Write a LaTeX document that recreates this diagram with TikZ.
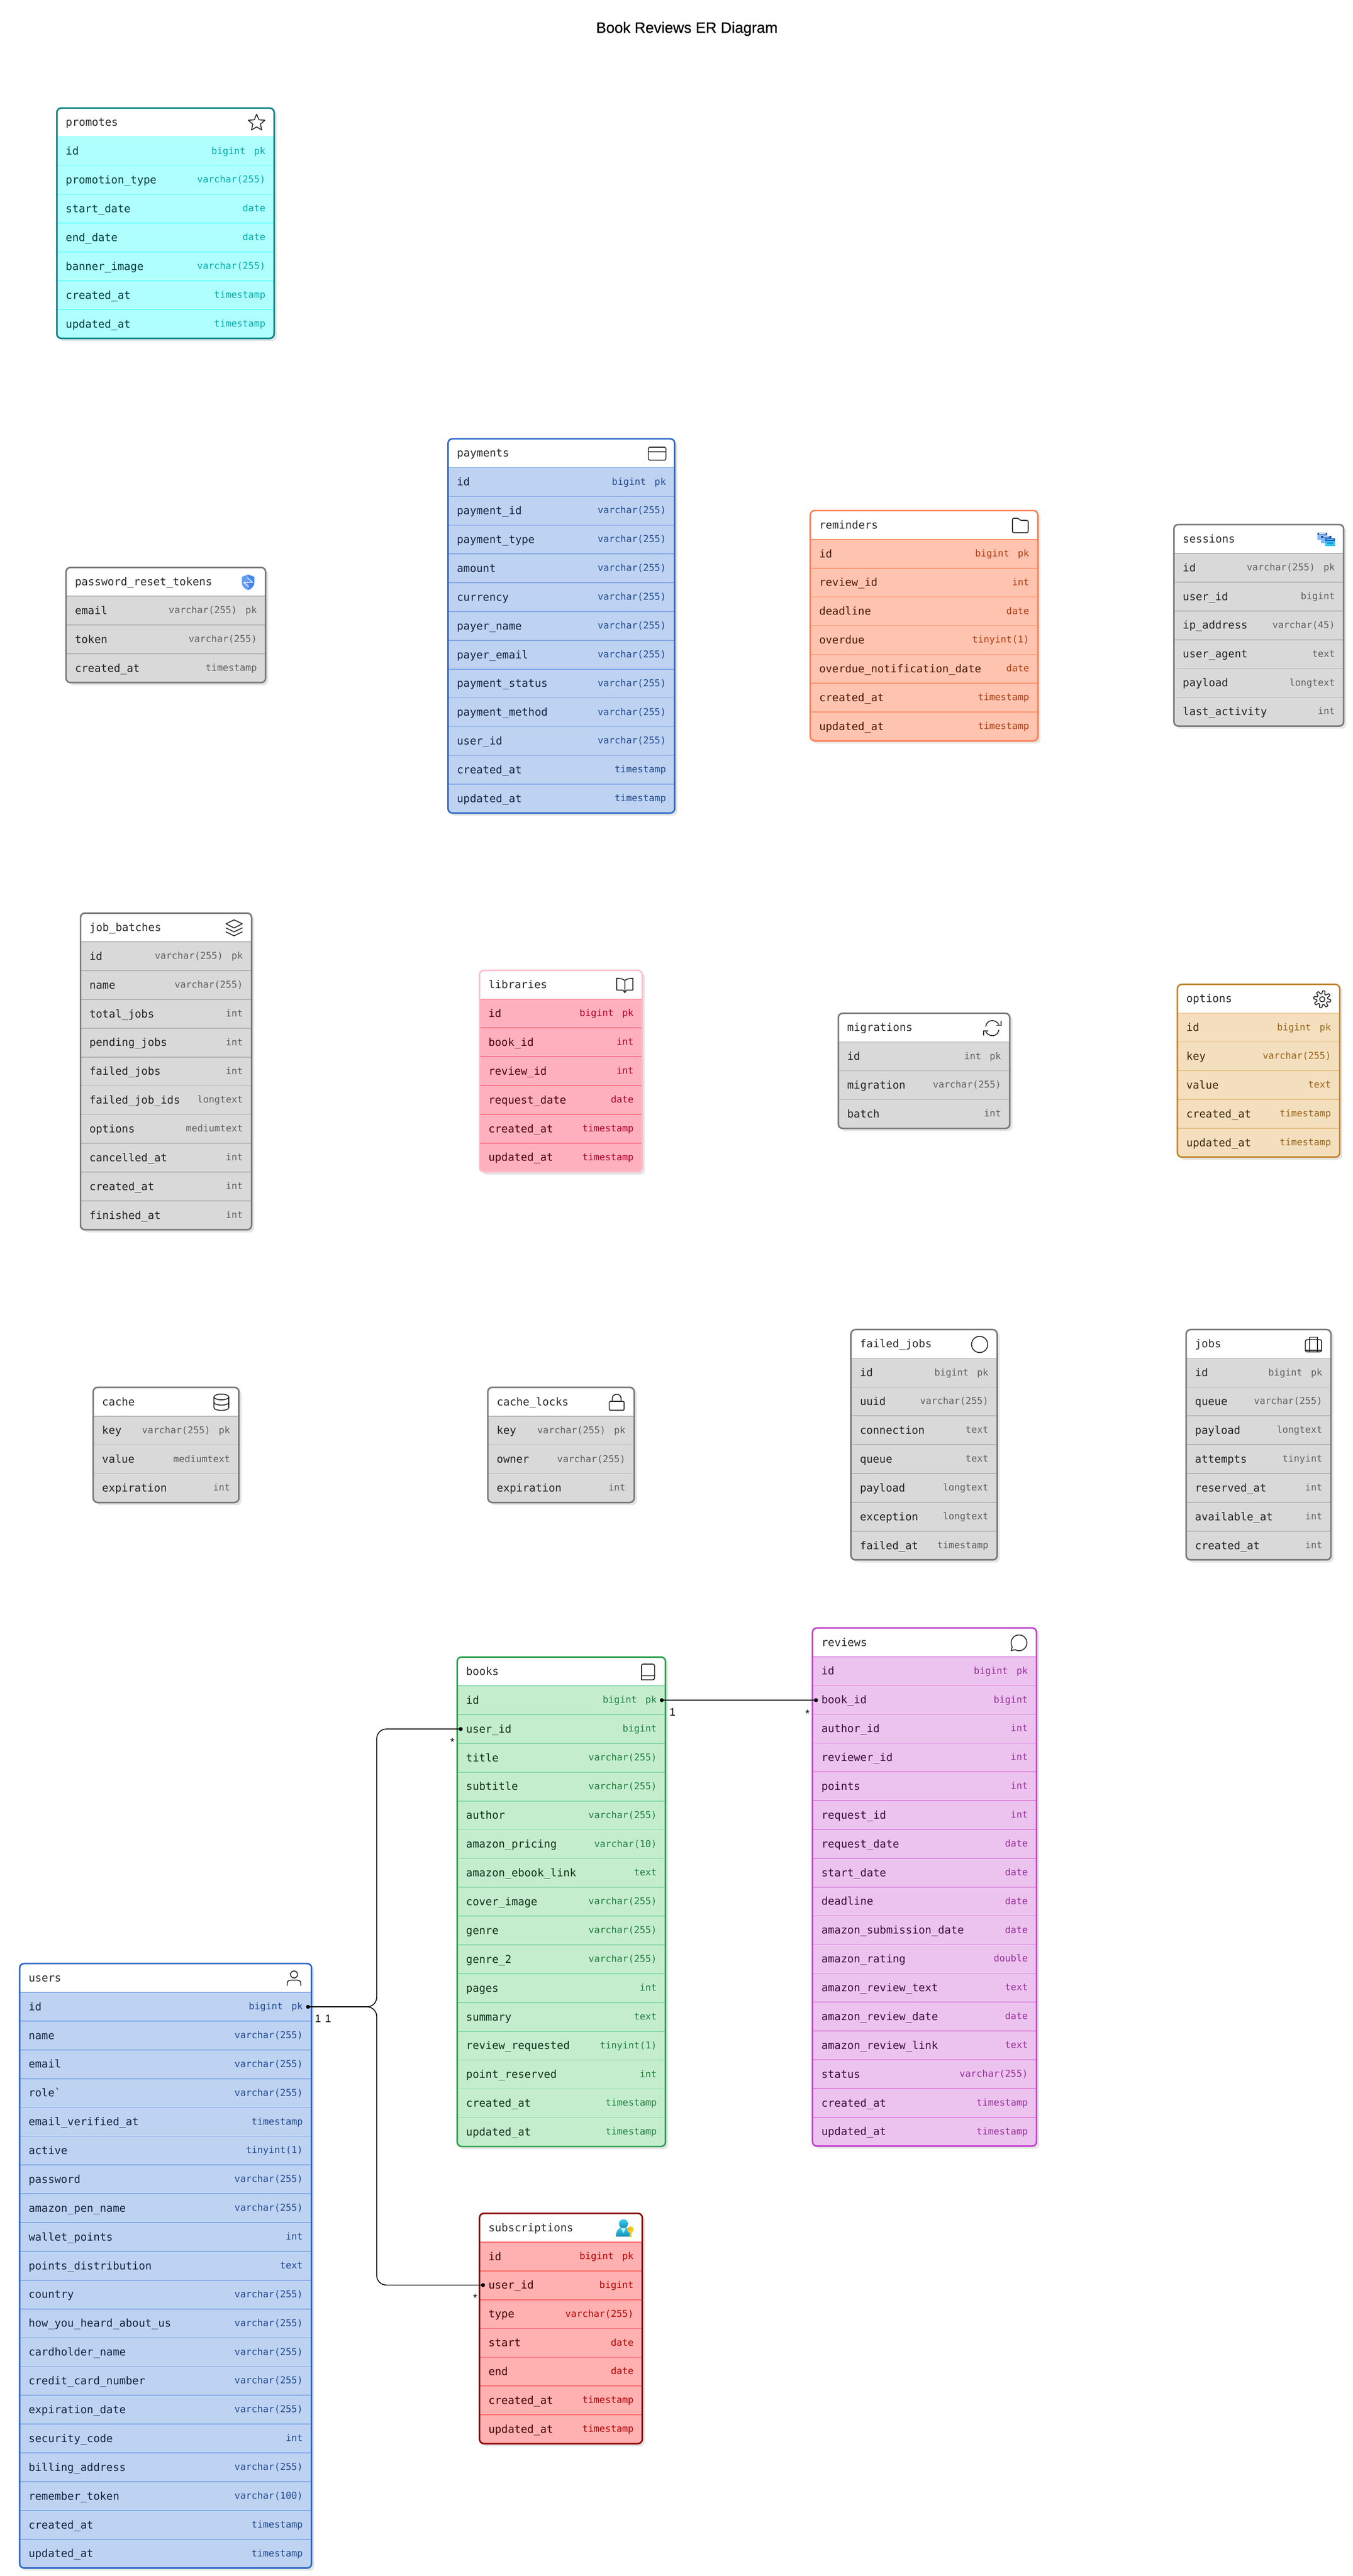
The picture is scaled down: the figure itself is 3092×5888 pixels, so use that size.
\documentclass[tikz,border=0pt]{standalone}
\usepackage{fontspec}
\newfontfamily\ermono{DejaVu Sans Mono}
\newfontfamily\ersans{Liberation Sans}
\newfontfamily\ersanshead[FakeBold=0.6]{Liberation Sans}
\catcode`\_=12
% palettes: border, fill, separator, name text, type text
\definecolor{tealbd}{HTML}{008080}\definecolor{tealfl}{HTML}{B0FFFF}\definecolor{tealsp}{HTML}{66FFFF}\definecolor{tealnm}{HTML}{003D3D}\definecolor{tealty}{HTML}{00ADAD}
\definecolor{bluebd}{HTML}{2B68C8}\definecolor{bluefl}{HTML}{BED2F1}\definecolor{bluesp}{HTML}{7DA5E8}\definecolor{bluenm}{HTML}{14243F}\definecolor{bluety}{HTML}{1F4A90}
\definecolor{coralbd}{HTML}{FF7F50}\definecolor{coralfl}{HTML}{FFC4B0}\definecolor{coralsp}{HTML}{FF9068}\definecolor{coralnm}{HTML}{4A1703}\definecolor{coralty}{HTML}{B33A0E}
\definecolor{graybd}{HTML}{787878}\definecolor{grayfl}{HTML}{D9D9D9}\definecolor{graysp}{HTML}{B0B0B0}\definecolor{graynm}{HTML}{222222}\definecolor{grayty}{HTML}{606060}
\definecolor{pinkbd}{HTML}{FFC0CB}\definecolor{pinkfl}{HTML}{FFB0BE}\definecolor{pinksp}{HTML}{FF6B85}\definecolor{pinknm}{HTML}{4D0010}\definecolor{pinkty}{HTML}{B8002A}
\definecolor{ochrebd}{HTML}{C08428}\definecolor{ochrefl}{HTML}{F3DFBE}\definecolor{ochresp}{HTML}{E8BD80}\definecolor{ochrenm}{HTML}{3D2A0A}\definecolor{ochrety}{HTML}{9A6518}
\definecolor{greenbd}{HTML}{2FA050}\definecolor{greenfl}{HTML}{C4EDCE}\definecolor{greensp}{HTML}{80D8A0}\definecolor{greennm}{HTML}{0E3219}\definecolor{greenty}{HTML}{238040}
\definecolor{violetbd}{HTML}{C040D0}\definecolor{violetfl}{HTML}{ECC3EE}\definecolor{violetsp}{HTML}{DD80DD}\definecolor{violetnm}{HTML}{3A0F3A}\definecolor{violetty}{HTML}{96309A}
\definecolor{redbd}{HTML}{8B0000}\definecolor{redfl}{HTML}{FFB0B0}\definecolor{redsp}{HTML}{FF6666}\definecolor{rednm}{HTML}{440000}\definecolor{redty}{HTML}{B80000}
\definecolor{erink}{HTML}{2B2B2B}
\tikzset{
  ershadow/.style={fill=black!10,rounded corners=5pt},
  tablebox/.style={anchor=north west,inner sep=0pt,outer sep=0pt,rounded corners=5pt},
  tableborder/.style={line width=1.75pt,rounded corners=5pt},
  titletext/.style={anchor=base west,inner sep=0pt,text=erink,font=\ermono\fontsize{12.4}{14}\selectfont},
  nametext/.style={anchor=base west,inner sep=0pt,font=\ermono\fontsize{12.3}{14}\selectfont},
  typetext/.style={anchor=base east,inner sep=0pt,font=\ermono\fontsize{10.8}{13}\selectfont},
  iconline/.style={draw=erink,line width=1.05pt,line join=round,line cap=round},
  erdot/.style={circle,fill=black,inner sep=0pt,minimum size=4.5pt},
  erline/.style={draw=black,line width=1pt,rounded corners=11pt},
  cardlabel/.style={anchor=base,inner sep=0pt,text=black,font=\ersans\fontsize{12.5}{14}\selectfont},
}
\newcommand{\pkg}{\hspace{9.7pt}}
\newcommand{\ertable}[8]{%
  \foreach \ern/\ert [count=\erk] in {#8} {\xdef\ernrows{\erk}}%
  \pgfmathsetmacro\erb{#4+65.8*(\ernrows+1)}%
  \pgfmathsetmacro\erw{(#3-#2)*0.5}%
  \pgfmathsetmacro\erh{(\erb-#4)*0.5}%
  \fill[ershadow] ({#2+6},{#4+6}) rectangle ({#3+6},{\erb+6});
  \node[tablebox,fill=#5fl,minimum width=\erw pt,minimum height=\erh pt] (#1) at (#2,#4) {};
  \begin{scope}
    \clip[rounded corners=5pt] (#1.north west) rectangle (#1.south east);
    \fill[white] (#2,#4) rectangle (#3,{#4+65.8});
    \foreach \erk in {1,...,\ernrows} {
      \draw[#5sp,line width=1pt] (#2,{#4+65.8*\erk}) -- (#3,{#4+65.8*\erk});
    }
  \end{scope}
  \begin{scope}[shift={({#3-40},{#4+34})}] #7 \end{scope}
  \draw[tableborder,draw=#5bd] (#1.north west) rectangle (#1.south east);
  \node[titletext] (#1-h) at ({#2+20},{#4+41.5}) {#6};
  \foreach \ern/\ert [count=\erk] in {#8} {
    \pgfmathsetmacro\ery{#4+65.8*(\erk+0.5)}
    \node[nametext,text=#5nm] (#1-r\erk) at ({#2+20},{\ery+8.5}) {\ern};
    \node[typetext,text=#5ty] (#1-t\erk) at ({#3-19.5},{\ery+6.5}) {\ert};
  }
}
% icons: drawn round the origin, in pixels
\newcommand{\icstar}{\draw[iconline] (-90:20) -- (-54:9) -- (-18:20) -- (18:9) -- (54:20) -- (90:9) -- (126:20) -- (162:9) -- (198:20) -- (234:9) -- cycle;}
\newcommand{\iccard}{\draw[iconline,rounded corners=2pt] (-20,-15) rectangle (20,15); \draw[iconline] (-20,-4) -- (20,-4);}
\newcommand{\icfolder}{\draw[iconline,rounded corners=1.5pt] (-18,-16.5) -- (-5,-16.5) -- (0,-11.5) -- (18,-11.5) -- (18,16.5) -- (-18,16.5) -- cycle;}
\newcommand{\icwindows}{%
  \fill[fill={rgb,255:red,131;green,183;blue,248}] (-20.3,-15.7) rectangle (2.3,1.3);
  \fill[fill={rgb,255:red,30;green,82;blue,170}] (-20.3,-15.7) rectangle (2.3,-10.5);
  \fill[white] (-16.5,-14.2) rectangle (-1.5,-12.2);
  \fill[fill={rgb,255:red,131;green,183;blue,248}] (-11.3,-8.7) rectangle (11.3,8.7);
  \fill[fill={rgb,255:red,30;green,82;blue,170}] (-11.3,-8.7) rectangle (11.3,-3.5);
  \fill[white] (-7.5,-7.2) rectangle (7.5,-5.2);
  \fill[fill={rgb,255:red,50;green,200;blue,243}] (-2.3,-2) rectangle (20.3,15.7);
  \fill[fill={rgb,255:red,12;green,105;blue,205}] (-2.3,-2) rectangle (20.3,3.2);
  \fill[white] (1.5,-0.5) rectangle (16.5,1.5);
  \foreach \erq in {4.5,9,13.5} {\fill[fill={rgb,255:red,12;green,105;blue,205}] (\erq,8.3) circle (1.1pt);}
}
\newcommand{\icshield}{%
  \fill[fill={rgb,255:red,66;green,133;blue,244}] (0,-18) -- (14.3,-12.5) -- (14.3,1) .. controls (14.3,9) and (8,15) .. (0,18) -- cycle;
  \fill[fill={rgb,255:red,102;green,157;blue,246}] (0,-18) -- (-14.3,-12.5) -- (-14.3,1) .. controls (-14.3,9) and (-8,15) .. (0,18) -- cycle;
  \draw[white,line width=0.9pt,line cap=round] (-10,0) -- (10,0) (-1,-10) -- (10,0) (-10,0) -- (1,10);
}
\newcommand{\iclayers}{\draw[iconline] (0,-18.5) -- (18.5,-9.5) -- (0,0) -- (-18.5,-9.5) -- cycle; \draw[iconline] (-18.5,0) -- (0,9) -- (18.5,0); \draw[iconline] (-18.5,9) -- (0,18) -- (18.5,9);}
\newcommand{\icopenbook}{\draw[iconline] (0,-11) .. controls (-5,-15) and (-12,-16) .. (-18.5,-16) -- (-18.5,11) -- (-4,11) -- (0,17) -- (4,11) -- (18.5,11) -- (18.5,-16) .. controls (12,-16) and (5,-15) .. (0,-11) -- (0,15);}
\newcommand{\icrefresh}{%
  \draw[iconline] (-15,-4) .. controls (-12,-21) and (8,-21) .. (15,-8);
  \draw[iconline] (20,-16) -- (20,-6) -- (10,-6);
  \draw[iconline] (15,4) .. controls (12,21) and (-8,21) .. (-15,8);
  \draw[iconline] (-20,16) -- (-20,6) -- (-10,6);
}
\newcommand{\icgear}{%
  \draw[iconline] plot[domain=0:360,samples=145] (\x:{16+3.5*max(-1,min(1,2*sin(8*\x)))}) -- cycle;
  \draw[iconline] (0,0) circle (3pt);
}
\newcommand{\iccylinder}{%
  \draw[iconline] (0,-12) ellipse [x radius=8.5pt,y radius=3.25pt];
  \draw[iconline] (-17,-12) -- (-17,12) .. controls (-17,21) and (17,21) .. (17,12) -- (17,-12);
  \draw[iconline] (-17,0) .. controls (-17,9) and (17,9) .. (17,0);
}
\newcommand{\iclock}{%
  \draw[iconline,rounded corners=1.5pt] (-17,-2) rectangle (17,18.5);
  \draw[iconline] (-10,-2) -- (-10,-9) .. controls (-10,-21) and (10,-21) .. (10,-9) -- (10,-2);
}
\newcommand{\iccircle}{\draw[iconline] (0,0) circle (9.25pt);}
\newcommand{\iccase}{%
  \draw[iconline,rounded corners=2pt] (-18.5,-11) rectangle (18.5,17);
  \draw[iconline] (-9,17) -- (-9,-16.5) -- (9,-16.5) -- (9,17);
  \draw[iconline] (-18.5,13) -- (18.5,13);
}
\newcommand{\icbook}{%
  \draw[iconline,rounded corners=2pt] (15,8.5) -- (-11,8.5) .. controls (-14,8.5) and (-15,10) .. (-15,13) .. controls (-15,16) and (-14,18) .. (-11,18) -- (15,18) -- (15,-18) -- (-15,-18) -- (-15,13);
}
\newcommand{\icbubble}{\draw[iconline] plot[domain=150:480,samples=45] (\x:18) -- (-18,18) -- cycle;}
\newcommand{\icuser}{%
  \draw[iconline] (0,-9) circle (4pt);
  \draw[iconline] (-15.5,16.5) -- (-15.5,11) .. controls (-15.5,6) and (-11,4) .. (-7,4) -- (7,4) .. controls (11,4) and (15.5,6) .. (15.5,11) -- (15.5,16.5);
}
\newcommand{\ickeyuser}{%
  \fill[top color={rgb,255:red,50;green,212;blue,245},bottom color={rgb,255:red,25;green,138;blue,179}] (-3,-10) circle (5pt);
  \fill[top color={rgb,255:red,50;green,212;blue,245},bottom color={rgb,255:red,25;green,138;blue,179}] (-20,19) .. controls (-20,6) and (-14,-2) .. (-3,-2) .. controls (8,-2) and (14,6) .. (14,19) -- cycle;
  \fill[fill={rgb,255:red,195;green,241;blue,255}] (-8.5,0) -- (2.5,0) -- (-3,11) -- cycle;
  \fill[fill={rgb,255:red,255;green,202;blue,40}] (13,3) circle (3.6pt);
  \fill[fill={rgb,255:red,255;green,202;blue,40}] (10.5,6) rectangle (15.5,20);
  \fill[fill={rgb,255:red,200;green,140;blue,10}] (9,1) rectangle (17,2.5);
}
\begin{document}
\begin{tikzpicture}[x=0.5pt,y=-0.5pt]
\useasboundingbox (0,0) rectangle (3092,5888);
\fill[white] (0,0) rectangle (3092,5888);
\node[anchor=base,inner sep=0pt,text=black,font=\ersanshead\fontsize{17.2}{20}\selectfont] (diagramtitle) at (1570,75) {Book Reviews ER Diagram};

\ertable{promotes}{130}{626.5}{247}{teal}{promotes}{\icstar}{id/bigint\pkg pk,promotion_type/varchar(255),start_date/date,end_date/date,banner_image/varchar(255),created_at/timestamp,updated_at/timestamp}

\ertable{payments}{1024}{1542}{1003}{blue}{payments}{\iccard}{id/bigint\pkg pk,payment_id/varchar(255),payment_type/varchar(255),amount/varchar(255),currency/varchar(255),payer_name/varchar(255),payer_email/varchar(255),payment_status/varchar(255),payment_method/varchar(255),user_id/varchar(255),created_at/timestamp,updated_at/timestamp}

\ertable{reminders}{1852}{2372}{1167}{coral}{reminders}{\icfolder}{id/bigint\pkg pk,review_id/int,deadline/date,overdue/tinyint(1),overdue_notification_date/date,created_at/timestamp,updated_at/timestamp}

\ertable{sessions}{2683}{3071}{1199}{gray}{sessions}{\icwindows}{id/varchar(255)\pkg pk,user_id/bigint,ip_address/varchar(45),user_agent/text,payload/longtext,last_activity/int}

\ertable{pwtokens}{151}{607}{1297}{gray}{password_reset_tokens}{\icshield}{email/varchar(255)\pkg pk,token/varchar(255),created_at/timestamp}

\ertable{jobbatches}{184}{575}{2087}{gray}{job_batches}{\iclayers}{id/varchar(255)\pkg pk,name/varchar(255),total_jobs/int,pending_jobs/int,failed_jobs/int,failed_job_ids/longtext,options/mediumtext,cancelled_at/int,created_at/int,finished_at/int}

\ertable{libraries}{1096}{1468}{2218}{pink}{libraries}{\icopenbook}{id/bigint\pkg pk,book_id/int,review_id/int,request_date/date,created_at/timestamp,updated_at/timestamp}

\ertable{migrations}{1916}{2308}{2316}{gray}{migrations}{\icrefresh}{id/int\pkg pk,migration/varchar(255),batch/int}

\ertable{options}{2691}{3062}{2250}{ochre}{options}{\icgear}{id/bigint\pkg pk,key/varchar(255),value/text,created_at/timestamp,updated_at/timestamp}

\ertable{cache}{213}{546}{3171}{gray}{cache}{\iccylinder}{key/varchar(255)\pkg pk,value/mediumtext,expiration/int}

\ertable{cachelocks}{1115}{1449.5}{3171}{gray}{cache_locks}{\iclock}{key/varchar(255)\pkg pk,owner/varchar(255),expiration/int}

\ertable{failedjobs}{1945}{2279}{3039}{gray}{failed_jobs}{\iccircle}{id/bigint\pkg pk,uuid/varchar(255),connection/text,queue/text,payload/longtext,exception/longtext,failed_at/timestamp}

\ertable{jobs}{2711}{3042}{3039}{gray}{jobs}{\iccase}{id/bigint\pkg pk,queue/varchar(255),payload/longtext,attempts/tinyint,reserved_at/int,available_at/int,created_at/int}

\ertable{books}{1045}{1521}{3787.5}{green}{books}{\icbook}{id/bigint\pkg pk,user_id/bigint,title/varchar(255),subtitle/varchar(255),author/varchar(255),amazon_pricing/varchar(10),amazon_ebook_link/text,cover_image/varchar(255),genre/varchar(255),genre_2/varchar(255),pages/int,summary/text,review_requested/tinyint(1),point_reserved/int,created_at/timestamp,updated_at/timestamp}

\ertable{reviews}{1857}{2369}{3721}{violet}{reviews}{\icbubble}{id/bigint\pkg pk,book_id/bigint,author_id/int,reviewer_id/int,points/int,request_id/int,request_date/date,start_date/date,deadline/date,amazon_submission_date/date,amazon_rating/double,amazon_review_text/text,amazon_review_date/date,amazon_review_link/text,status/varchar(255),created_at/timestamp,updated_at/timestamp}

\ertable{users}{45}{712}{4488}{blue}{users}{\icuser}{id/bigint\pkg pk,name/varchar(255),email/varchar(255),role`/varchar(255),email_verified_at/timestamp,active/tinyint(1),password/varchar(255),amazon_pen_name/varchar(255),wallet_points/int,points_distribution/text,country/varchar(255),how_you_heard_about_us/varchar(255),cardholder_name/varchar(255),credit_card_number/varchar(255),expiration_date/varchar(255),security_code/int,billing_address/varchar(255),remember_token/varchar(100),created_at/timestamp,updated_at/timestamp}

\ertable{subscriptions}{1096}{1468}{5059}{red}{subscriptions}{\ickeyuser}{id/bigint\pkg pk,user_id/bigint,type/varchar(255),start/date,end/date,created_at/timestamp,updated_at/timestamp}

% connector end points and bend
\node[erdot] (usersidport) at (704,4587) {};
\node[erdot] (booksidport) at (1512.5,3886) {};
\node[erdot] (booksuserport) at (1053,3952) {};
\node[erdot] (reviewsbookport) at (1865,3886) {};
\node[erdot] (subsuserport) at (1104,5223) {};
\coordinate (trunk) at (861,4587);
\draw[erline] (usersidport.center) -- (trunk) |- (booksuserport.center);
\draw[erline] (usersidport.center) -- (trunk) |- (subsuserport.center);
\draw[erline] (booksidport.center) -- (reviewsbookport.center);

\node[cardlabel] (cardusersa) at (727,4623) {1};
\node[cardlabel] (cardusersb) at (750,4623) {1};
\node[cardlabel] (cardbooksid) at (1537,3921.6) {1};
\node[cardlabel] (cardreviews) at (1845.5,3925) {*};
\node[cardlabel] (cardbooksuser) at (1034,3990) {*};
\node[cardlabel] (cardsubs) at (1086,5261) {*};
\end{tikzpicture}
\end{document}
